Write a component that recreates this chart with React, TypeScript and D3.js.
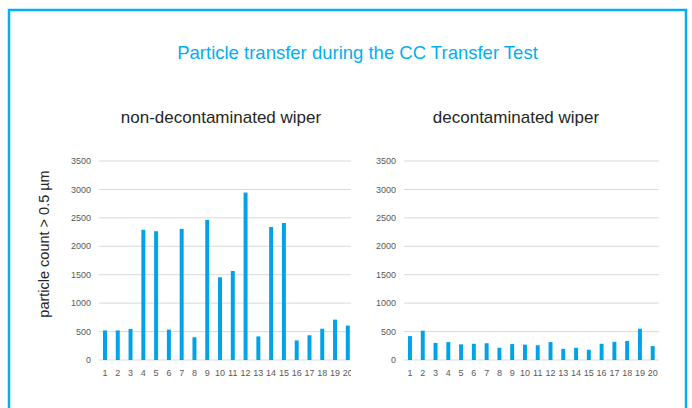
import React from "react";
import * as d3 from "d3";

const categories = ["1","2","3","4","5","6","7","8","9","10","11","12","13","14","15","16","17","18","19","20"];
const nonDecon = [520, 520, 545, 2290, 2265, 535, 2305, 400, 2465, 1455, 1565, 2945, 415, 2340, 2410, 345, 435, 550, 710, 605];
const decon = [420, 515, 300, 315, 275, 285, 295, 215, 280, 270, 260, 315, 195, 215, 180, 285, 320, 335, 550, 245];
const yTicks = [0, 500, 1000, 1500, 2000, 2500, 3000, 3500];
const title = "Particle transfer during the CC Transfer Test";
const leftTitle = "non-decontaminated wiper";
const rightTitle = "decontaminated wiper";
const yLabel = "particle count > 0.5 µm";

const BLUE = "#00A3E8";
const FONT = "'Liberation Sans', Arial, sans-serif";

const y = d3.scaleLinear().domain([0, 3500]).range([360, 161]);

function Panel({ id, values, x0, x1, clipRight, labelX }: { id: string; values: number[]; x0: number; x1: number; clipRight: number; labelX: number }) {
  const x = d3.scaleBand<string>().domain(categories).range([x0, x1]).paddingInner(0.69).paddingOuter(0.345);
  const gx0 = Math.round(x0);
  return (
    <g>
      <defs>
        <clipPath id={id}>
          <rect x={0} y={0} width={clipRight} height={408} />
        </clipPath>
      </defs>
      {yTicks.map((t) => (
        <g key={t}>
          <line x1={gx0} x2={clipRight} y1={y(t)} y2={y(t)} stroke="#d9d9d9" strokeWidth={1} />
          <text x={labelX} y={y(t)} dy="0.35em" textAnchor="end" fontSize={9} fill="#595959" fontFamily={FONT}>{t}</text>
        </g>
      ))}
      <g clipPath={`url(#${id})`}>
        {values.map((v, i) => (
          <rect key={i} x={x(categories[i])!} y={y(v)} width={x.bandwidth()} height={y(0) - y(v)} fill={BLUE} />
        ))}
        {categories.map((c) => (
          <text key={c} x={x(c)! + x.bandwidth() / 2} y={376} textAnchor="middle" fontSize={9} fill="#595959" fontFamily={FONT}>{c}</text>
        ))}
      </g>
    </g>
  );
}

export default function App() {
  return (
    <svg width={692} height={408} style={{ position: "absolute", left: 0, top: 0, background: "#fff" }}>
      <rect x={0} y={0} width={692} height={408} fill="#fff" />
      <rect x={9} y={10} width={677} height={440} fill="none" stroke="#00B0F0" strokeWidth={2.5} />
      <text x={357.5} y={59} textAnchor="middle" fontSize={18.5} fill="#00B0F0" fontFamily={FONT}>{title}</text>
      <text x={221} y={123} textAnchor="middle" fontSize={17} fill="#262626" fontFamily={FONT}>{leftTitle}</text>
      <text x={516} y={123} textAnchor="middle" fontSize={17} fill="#262626" fontFamily={FONT}>{rightTitle}</text>
      <text transform="translate(49,244) rotate(-90)" textAnchor="middle" fontSize={14.5} fill="#262626" fontFamily={FONT}>{yLabel}</text>
      <Panel id="clipL" values={nonDecon} x0={98.6} x1={354.2} clipRight={351} labelX={91} />
      <Panel id="clipR" values={decon} x0={403.6} x1={659.1} clipRight={659} labelX={396} />
    </svg>
  );
}
